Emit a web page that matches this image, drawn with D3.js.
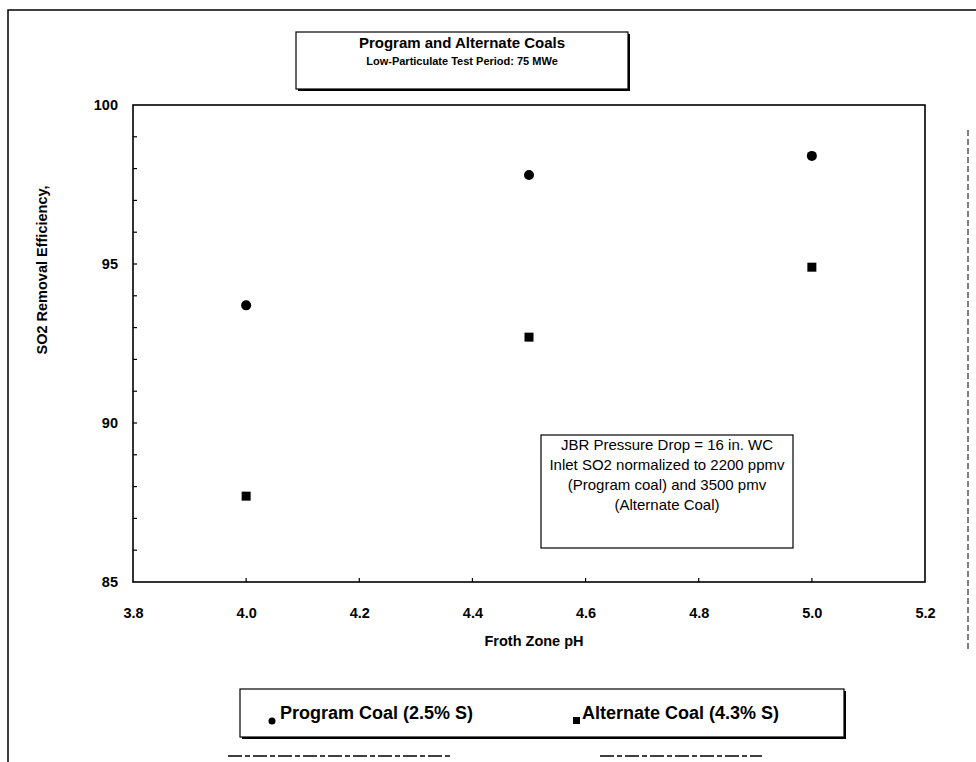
<!DOCTYPE html>
<html>
<head>
<meta charset="utf-8">
<script src="https://cdn.jsdelivr.net/npm/d3@7"></script>
<style>
  html, body { margin: 0; padding: 0; background: #fff; }
  svg { display: block; font-family: "Liberation Sans", Arial, sans-serif; }
</style>
</head>
<body>
<script>
// data
const phValues = [4.0, 4.5, 5.0];
const programCoal = [93.7, 97.8, 98.4];
const alternateCoal = [87.7, 92.7, 94.9];
const xTickValues = [3.8, 4.0, 4.2, 4.4, 4.6, 4.8, 5.0, 5.2];
const yTickValues = [85, 90, 95, 100];
const noteLines = [
  'JBR Pressure Drop = 16 in. WC',
  'Inlet SO2 normalized to 2200 ppmv',
  '(Program coal) and 3500 pmv',
  '(Alternate Coal)'
];

const W = 976, H = 762;
const plot = { left: 133, top: 105, right: 925, bottom: 582 };

const svg = d3.select('body').append('svg')
  .attr('width', W)
  .attr('height', H);

// scan frame remnants
const frame = svg.append('g').attr('stroke', '#000').attr('fill', 'none');
frame.append('path').attr('d', `M8,${H} V10 H${W}`).attr('stroke-width', 1.5);
frame.append('path').attr('d', 'M968,130 V650').attr('stroke-width', 1).attr('stroke-dasharray', '6 3');
frame.append('path').attr('d', 'M228,756 H450 M600,756 H762').attr('stroke-width', 1.5).attr('stroke-dasharray', '14 3 5 3');

const x = d3.scaleLinear().domain([3.8, 5.2]).range([plot.left, plot.right]);
const y = d3.scaleLinear().domain([85, 100]).range([plot.bottom, plot.top]);

// plot frame
svg.append('rect')
  .attr('x', plot.left).attr('y', plot.top)
  .attr('width', plot.right - plot.left).attr('height', plot.bottom - plot.top)
  .attr('fill', 'none').attr('stroke', '#000').attr('stroke-width', 1.6);

// minor inside ticks
svg.append('g')
  .selectAll('line')
  .data(d3.range(86, 100, 1))
  .join('line')
  .attr('x1', plot.left).attr('x2', plot.left + 4)
  .attr('y1', d => y(d)).attr('y2', d => y(d))
  .attr('stroke', '#000').attr('stroke-width', 1.2);

svg.append('g')
  .selectAll('line')
  .data(xTickValues.slice(1, -1))
  .join('line')
  .attr('x1', d => x(d)).attr('x2', d => x(d))
  .attr('y1', plot.bottom).attr('y2', plot.bottom - 4)
  .attr('stroke', '#000').attr('stroke-width', 1.2);

// axes (labels only, the frame carries the lines)
const xAxis = svg.append('g')
  .attr('transform', `translate(0,${plot.bottom})`)
  .call(d3.axisBottom(x).tickValues(xTickValues).tickFormat(d3.format('.1f')).tickSize(0).tickPadding(26));
xAxis.select('.domain').remove();
xAxis.selectAll('text').attr('font-size', 14.5).attr('font-weight', 'bold').attr('fill', '#000')
  .attr('font-family', '"Liberation Sans", Arial, sans-serif');

const yAxis = svg.append('g')
  .attr('transform', `translate(${plot.left},0)`)
  .call(d3.axisLeft(y).tickValues(yTickValues).tickFormat(d3.format('d')).tickSize(0).tickPadding(15));
yAxis.select('.domain').remove();
yAxis.selectAll('text').attr('font-size', 14.5).attr('font-weight', 'bold').attr('fill', '#000')
  .attr('font-family', '"Liberation Sans", Arial, sans-serif');

// axis titles
svg.append('text')
  .attr('x', 534).attr('y', 646)
  .attr('text-anchor', 'middle')
  .attr('font-size', 14.5).attr('font-weight', 'bold')
  .text('Froth Zone pH');

svg.append('text')
  .attr('transform', 'translate(47,270) rotate(-90)')
  .attr('text-anchor', 'middle')
  .attr('font-size', 14.5).attr('font-weight', 'bold')
  .text('SO2 Removal Efficiency,');

// series
svg.append('g')
  .selectAll('circle')
  .data(phValues.map((p, i) => [p, programCoal[i]]))
  .join('circle')
  .attr('cx', d => x(d[0])).attr('cy', d => y(d[1]))
  .attr('r', 5).attr('fill', '#000');

svg.append('g')
  .selectAll('rect')
  .data(phValues.map((p, i) => [p, alternateCoal[i]]))
  .join('rect')
  .attr('x', d => x(d[0]) - 4.5).attr('y', d => y(d[1]) - 4.5)
  .attr('width', 9).attr('height', 9).attr('fill', '#000');

// boxes with a scanned drop shadow
function shadowBox (x0, y0, w, h) {
  svg.append('rect').attr('x', x0 + 2).attr('y', y0 + 2).attr('width', w).attr('height', h).attr('fill', '#000');
  svg.append('rect').attr('x', x0).attr('y', y0).attr('width', w).attr('height', h)
    .attr('fill', '#fff').attr('stroke', '#000').attr('stroke-width', 1.2);
}

shadowBox(296, 32, 332, 57);
svg.append('text').attr('x', 462).attr('y', 48).attr('text-anchor', 'middle')
  .attr('font-size', 15).attr('font-weight', 'bold')
  .text('Program and Alternate Coals');
svg.append('text').attr('x', 462).attr('y', 65).attr('text-anchor', 'middle')
  .attr('font-size', 11).attr('font-weight', 'bold')
  .text('Low-Particulate Test Period:  75 MWe');

// note box
svg.append('rect').attr('x', 541).attr('y', 435).attr('width', 252).attr('height', 113)
  .attr('fill', '#fff').attr('stroke', '#000').attr('stroke-width', 1.2);
svg.append('g')
  .selectAll('text')
  .data(noteLines)
  .join('text')
  .attr('x', 667).attr('y', (d, i) => 450 + i * 20)
  .attr('text-anchor', 'middle')
  .attr('font-size', 15)
  .text(d => d);

// legend
shadowBox(240, 689, 604, 48);
const legend = svg.append('g');
legend.append('circle').attr('cx', 272).attr('cy', 721).attr('r', 3.5).attr('fill', '#000');
legend.append('text').attr('x', 280).attr('y', 719).attr('font-size', 18).attr('font-weight', 'bold')
  .text('Program Coal (2.5% S)');
legend.append('rect').attr('x', 573).attr('y', 717).attr('width', 7).attr('height', 7).attr('fill', '#000');
legend.append('text').attr('x', 582).attr('y', 719).attr('font-size', 18).attr('font-weight', 'bold')
  .text('Alternate Coal (4.3% S)');
</script>
</body>
</html>
